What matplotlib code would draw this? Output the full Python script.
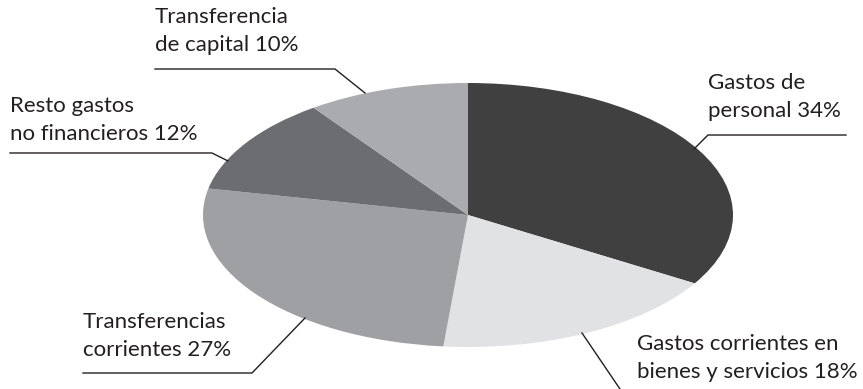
import matplotlib
matplotlib.use("Agg")
import matplotlib.pyplot as plt

labels = ["Gastos de\npersonal 34%",
          "Gastos corrientes en\nbienes y servicios 18%",
          "Transferencias\ncorrientes 27%",
          "Resto gastos\nno financieros 12%",
          "Transferencia\nde capital 10%"]
shares = [34, 18, 27, 12, 10]
colors = ["#404041", "#e1e2e4", "#9fa0a3", "#6c6d70", "#aaabae"]

W, H = 863, 389
CX, CY, RX, RY = 468, 215, 265, 132


def px(x, y):
    # pixel position (from top-left) -> pie data coords
    return (x - CX) / RX, (CY - y) / RY


fig = plt.figure(figsize=(W / 100, H / 100), dpi=100)
ax = fig.add_axes([0, 0, 1, 1])
ax.pie(shares, colors=colors, startangle=90, counterclock=False,
       wedgeprops=dict(linewidth=0))
ax.set_aspect("auto")
x0, y0 = px(0, H)
x1, y1 = px(W, 0)
ax.set_xlim(x0, x1)
ax.set_ylim(y0, y1)
ax.axis("off")

# label text position (left, top) and leader path in pixels
layout = [
    ((708, 73), [(846, 135), (708, 135), (694, 149)]),
    ((637, 334), [(622, 392), (582, 333)]),
    ((83, 312), [(83, 373), (252, 373), (305, 318)]),
    ((10, 96), [(10, 153), (212, 153), (228, 161)]),
    ((155, 7), [(155, 69), (335, 69), (365, 93)]),
]

for lab, (pos, path) in zip(labels, layout):
    tx, ty = px(*pos)
    ax.text(tx, ty, lab, ha="left", va="top", fontsize=16, family="Lato",
            color="#231f20", linespacing=1.5)
    xs, ys = zip(*[px(a, b) for a, b in path])
    ax.plot(xs, ys, color="#231f20", lw=1.0, clip_on=False)

fig.savefig("out.png", dpi=100)
